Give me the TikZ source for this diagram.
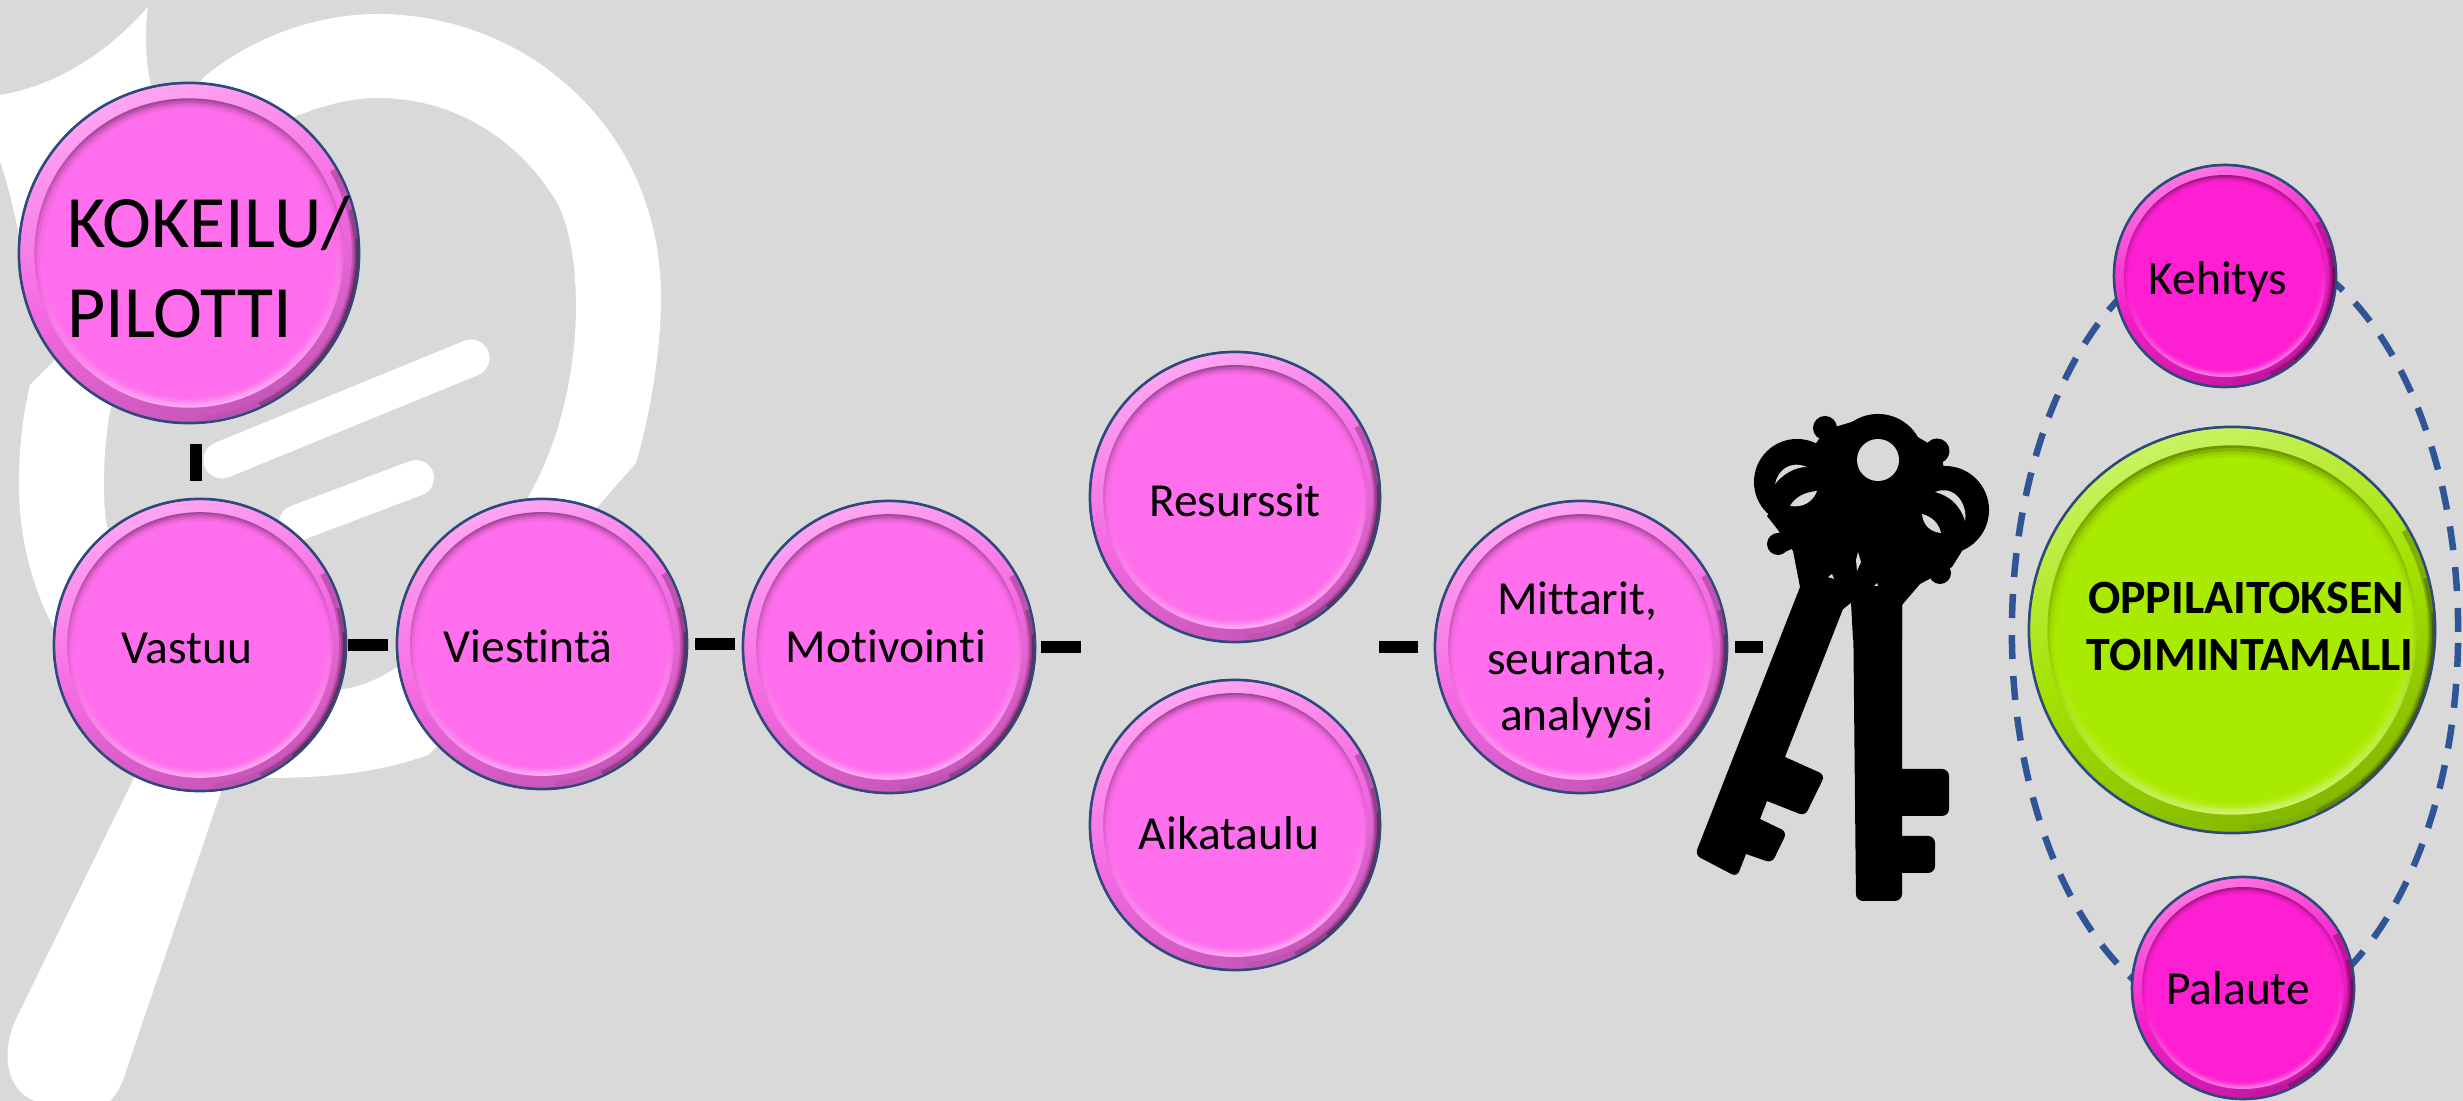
\documentclass[tikz,border=0pt]{standalone}
\usepackage{fontspec}
\setmainfont[Ligatures=NoCommon]{Carlito}
\usetikzlibrary{shapes.geometric}
\definecolor{bgc}{HTML}{D9D9D9}
\definecolor{pinkA}{HTML}{FF6EEC}
\definecolor{pinkB}{HTML}{FF1FD2}
\definecolor{greenA}{HTML}{A9EB00}
\definecolor{edgec}{HTML}{2F4A7A}
\definecolor{dashc}{HTML}{2F5597}
\tikzset{
  btnouter/.style={circle,inner sep=0pt,outer sep=0pt,draw=edgec,line width=0.025cm},
  lbl/.style={anchor=base,inner sep=0pt,text=black,font=\fontsize{13.5}{16.2}\selectfont,align=center},
  lblbig/.style={anchor=west,inner sep=0pt,text=black,font=\fontsize{21}{25.6}\selectfont,align=left},
  lblbold/.style={anchor=base,inner sep=0pt,text=black,font=\fontsize{13.6}{16.2}\selectfont\bfseries,align=center},
  link/.style={draw=black,line width=0.125cm},
  keyfill/.style={fill=black,draw=none},
  keyhole/.style={fill=bgc,draw=none},
  orbit/.style={ellipse,draw=dashc,line width=0.065cm,dash pattern=on 0.24cm off 0.17cm,inner sep=0pt}
}
\newcommand{\btn}[5]{%
  \node[btnouter,minimum size={#4*0.02cm},top color=#5!62!white,bottom color=#5!78!black,middle color=#5!96!black,shading angle=20] (#1) at (#2,#3) {};
  \begin{scope}
    \clip (#2,#3) circle[radius={#4*0.01cm}];
    \draw[#5!75!black,line width=0.14cm] (#1.-85) arc[start angle=-85,end angle=30,radius={#4*0.01cm}];
    \draw[#5!58!black,line width=0.1cm] (#1.-65) arc[start angle=-65,end angle=15,radius={#4*0.01cm}];
    \draw[#5!40!black,line width=0.06cm] (#1.-50) arc[start angle=-50,end angle=5,radius={#4*0.01cm}];
  \end{scope}
  \draw[edgec,line width=0.02cm] (#1.center) circle[radius={#4*0.01cm}];
  \shade[top color=#5!64!black,bottom color=#5!58!white,middle color=#5!90!black,shading angle=8] (#2,#3) circle[radius=#4*0.0091cm];
  \shade[top color=#5!76!black,bottom color=#5!68!white,middle color=#5!97!black,shading angle=8] (#2,#3) circle[radius=#4*0.00895cm];
  \shade[top color=#5!88!black,bottom color=#5!84!white,middle color=#5,shading angle=8] (#2,#3) circle[radius=#4*0.0088cm];
  \shade[top color=#5!95!black,bottom color=#5!94!white,middle color=#5,shading angle=8] (#2,#3) circle[radius=#4*0.00865cm];
  \fill[#5] (#2,#3) circle[radius=#4*0.0085cm];
}
\begin{document}
\begin{tikzpicture}[x=0.01cm,y=-0.01cm]
\useasboundingbox (0,0) rectangle (2463,1101);
\fill[bgc] (0,0) rectangle (2463,1101);
% magnifier watermark
\begin{scope}
\clip (0,0) rectangle (2463,1101);
\fill[white,even odd rule]
  (204,77) .. controls (255,35) and (320,14) .. (378,14)
  .. controls (440,14) and (505,35) .. (555,75)
  .. controls (625,130) and (661,210) .. (661,298)
  .. controls (661,350) and (650,415) .. (636,463)
  -- (592,513) -- (542,645) -- (428,755)
  .. controls (385,770) and (340,778) .. (265,778)
  -- (200,645) -- (56,632)
  .. controls (33,590) and (19,540) .. (19,485)
  .. controls (19,450) and (22,420) .. (30,385)
  -- (60,355) -- (120,200) -- cycle
  (296,116) .. controls (325,105) and (350,98) .. (378,98)
  .. controls (455,98) and (520,140) .. (558,204)
  .. controls (570,230) and (576,265) .. (576,306)
  .. controls (576,370) and (560,440) .. (531,492)
  .. controls (490,570) and (430,670) .. (350,688)
  .. controls (310,695) and (270,690) .. (250,690)
  -- (107,527) .. controls (104,510) and (104,495) .. (104,485)
  .. controls (104,455) and (106,435) .. (110,411)
  -- (200,170) -- cycle;
\fill[white] (135,776) -- (18,1015) .. controls (0,1050) and (5,1090) .. (35,1101) -- (110,1101) .. controls (118,1092) and (122,1085) .. (127,1068) -- (224,783) -- (200,645) -- cycle;
\fill[white] (0,95) .. controls (60,85) and (110,50) .. (148,7) .. controls (144,35) and (146,65) .. (152,91) -- (189,200) -- (20,240) .. controls (14,210) and (8,185) .. (0,161) -- cycle;
\draw[white,line width=0.37cm,line cap=round] (471,358) -- (222,460);
\draw[white,line width=0.36cm,line cap=round] (416,478) -- (297,523);
\end{scope}
% dashed orbit
\node[orbit,minimum width=4.46cm,minimum height=7.8cm] (orbit) at (2235,632) {};
% keys
\fill[keyfill] (1853,600) [rounded corners=0.07cm] -- (1856,901) -- (1902,901) [sharp corners] -- (1902,873) [rounded corners=0.07cm] -- (1935,873) -- (1935,836) [sharp corners] -- (1902,836) -- (1902,816) [rounded corners=0.07cm] -- (1949,816) -- (1949,769) [sharp corners] -- (1902,769) -- (1902,590) -- cycle;
\fill[keyfill] (1800,587) [rounded corners=0.06cm] -- (1695,855) -- (1737,877) [sharp corners] -- (1746,854) [rounded corners=0.06cm] -- (1772,863) -- (1787,832) [sharp corners] -- (1760,819) -- (1767,801) [rounded corners=0.06cm] -- (1805,816) -- (1825,775) [sharp corners] -- (1785,757) -- (1843,609) -- (1852,602) -- (1860,560) -- cycle;
\fill[keyfill] (1800,587) -- (1843,609) -- (1851,602) -- (1853,640) -- (1902,640) -- (1902,560) -- (1800,540) -- cycle;
\fill[keyfill] (1800,587) -- (1793,551) -- (1778,530) -- (1767,516) -- (1825,430) -- (1878,414) -- (1940,450) -- (1962,551) -- (1952,567) -- (1920,584) -- (1902,605) -- (1860,600) -- cycle;
\fill[keyfill] (1878,460) circle[radius=0.46cm];
\fill[keyfill] (1945,510) circle[radius=0.44cm];
\fill[keyfill] (1797,482) circle[radius=0.43cm];
\fill[keyfill] (1825,428) circle[radius=0.12cm];
\fill[keyfill] (1937,451) circle[radius=0.125cm];
\fill[keyfill] (1778,544) circle[radius=0.11cm];
\fill[keyfill] (1940,573) circle[radius=0.11cm];
\draw[black,line width=0.2cm] (1825,428) -- (1850,460);
\draw[black,line width=0.2cm] (1937,451) -- (1905,480);
\draw[black,line width=0.2cm] (1778,544) -- (1810,530);
\draw[black,line width=0.2cm] (1940,573) -- (1910,550);
\fill[keyhole] (1878,460) circle[radius=0.21cm];
\fill[keyhole] (1775,484) .. controls (1778,470) and (1790,460) .. (1807,467) .. controls (1795,467) and (1783,474) .. (1775,484) -- cycle;
\fill[keyhole] (1790,506) .. controls (1795,497) and (1805,492) .. (1817,491) .. controls (1813,502) and (1803,508) .. (1790,506) -- cycle;
\fill[keyhole] (1935,492) .. controls (1955,484) and (1968,505) .. (1965,521) .. controls (1960,505) and (1950,496) .. (1935,492) -- cycle;
\fill[keyhole] (1922,514) .. controls (1933,517) and (1939,524) .. (1941,533) .. controls (1930,532) and (1923,525) .. (1922,514) -- cycle;
\fill[keyhole] (1858,552) -- (1861,562) -- (1857,571) -- (1856,560) -- cycle;
\fill[keyhole] (1832,574) -- (1834,579) -- (1828,577) -- cycle;
\fill[keyhole] (1877,583) -- (1878,586) -- (1874,586) -- cycle;
% buttons
\btn{kokeilu}{189}{253}{170}{pinkA}
\btn{vastuu}{200}{645}{146}{pinkA}
\btn{viestinta}{542}{644}{145}{pinkA}
\btn{motivointi}{889}{647}{146}{pinkA}
\btn{resurssit}{1235}{497}{145}{pinkA}
\btn{aikataulu}{1235}{825}{145}{pinkA}
\btn{mittarit}{1581}{647}{146}{pinkA}
\btn{kehitys}{2225}{276}{111}{pinkB}
\btn{oppilaitos}{2232}{630}{203}{greenA}
\btn{palaute}{2243}{988}{111}{pinkB}
% labels
\node[lblbig] (tkokeilu) at (67,267) {KOKEILU/\\PILOTTI};
\node[lbl] (tvastuu) at (187,664) {Vastuu};
\node[lbl] (tviestinta) at (528,663) {Viestintä};
\node[lbl] (tmotivointi) at (886,663) {Motivointi};
\node[lbl] (tresurssit) at (1235,517) {Resurssit};
\node[lbl] (taikataulu) at (1229,850) {Aikataulu};
\node[lbl] (tm1) at (1577,615) {Mittarit,};
\node[lbl] (tm2) at (1577,675) {seuranta,};
\node[lbl] (tm3) at (1577,731) {analyysi};
\node[lbl] (tkehitys) at (2218,295) {Kehitys};
\node[lbl] (tpalaute) at (2238,1005) {Palaute};
\node[lblbold] (to1) at (2246,614) {OPPILAITOKSEN};
\node[lblbold] (to2) at (2250,671) {TOIMINTAMALLI};
% connectors
\coordinate (vtop) at (196,460);
\coordinate (hub) at (1234,647);
\coordinate (keys) at (1800,647);
\draw[link,shorten <=0.21cm,shorten >=0.18cm] (kokeilu.south -| vtop) -- (vastuu.north -| vtop);
\draw[link,shorten <=0.02cm,shorten >=0.09cm] (vastuu.east) -- (viestinta.west |- vastuu.east);
\draw[link,shorten <=0.08cm,shorten >=0.08cm] (viestinta.east) -- (motivointi.west |- viestinta.east);
\draw[link,shorten <=0.06cm,shorten >=1.53cm] (motivointi.east) -- (hub);
\draw[link,shorten <=1.45cm,shorten >=0.17cm] (hub) -- (mittarit.west);
\draw[link,shorten <=0.08cm,shorten >=0.37cm] (mittarit.east) -- (keys);
\end{tikzpicture}
\end{document}
